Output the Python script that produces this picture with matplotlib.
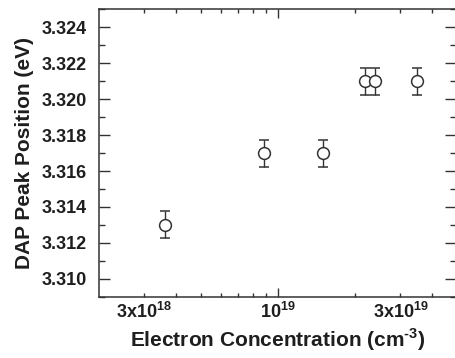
import numpy as np
import matplotlib
matplotlib.use("Agg")
import matplotlib.pyplot as plt

# electron concentration (cm^-3) and DAP peak position (eV)
conc = [3.62e18, 8.82e18, 1.50e19, 2.19e19, 2.39e19, 3.48e19]
peak = [3.313, 3.317, 3.317, 3.321, 3.321, 3.321]
err = [0.00075, 0.00075, 0.00075, 0.00075, 0.00075, 0.00075]

yticks = [3.310, 3.312, 3.314, 3.316, 3.318, 3.320, 3.322, 3.324]
xmajor = [1e19]
xmajor_labels = [r'10$^{\mathbf{19}}$']
xminor = [3e18, 4e18, 5e18, 6e18, 7e18, 8e18, 9e18, 2e19, 3e19, 4e19]
xminor_labels = [r'3x10$^{\mathbf{18}}$', '', '', '', '', '', '', '', r'3x10$^{\mathbf{19}}$', '']

plt.rcParams['font.family'] = 'Liberation Sans'
plt.rcParams['font.weight'] = 'bold'
plt.rcParams['mathtext.fontset'] = 'custom'
plt.rcParams['mathtext.rm'] = 'Liberation Sans:bold'
plt.rcParams['mathtext.bf'] = 'Liberation Sans:bold'

col = '#333333'
txt = '#1e1e1e'

fig = plt.figure(figsize=(4.55, 3.58), dpi=100)
ax = fig.add_axes([99 / 455, 1 - 296.7 / 358, 357 / 455, (296.7 - 9.3) / 358])

ax.errorbar(conc, peak, yerr=err, fmt='o', ms=8.5, mfc='white', mec=col, mew=1.1,
            ecolor=col, elinewidth=1.0, capsize=3.6, capthick=1.0)

ax.set_xscale('log')
ax.set_xlim(2.01e18, 4.94e19)
ax.set_ylim(3.30903, 3.32501)

ax.set_xticks(xmajor, labels=xmajor_labels)
ax.set_xticks(xminor, labels=xminor_labels, minor=True)
ax.set_yticks(yticks, labels=[f'{v:.3f}' for v in yticks])
ax.set_yticks(np.arange(3.309, 3.3251, 0.001), minor=True)

ax.tick_params(which='both', direction='in', top=True, right=True, colors=col,
               labelcolor=txt, width=1.0)
ax.tick_params(axis='y', which='major', length=8, pad=8.5, labelsize=13)
ax.tick_params(axis='y', which='minor', length=4)
ax.tick_params(axis='x', which='major', length=6.5, pad=4, labelsize=13)
ax.tick_params(axis='x', which='minor', length=3, pad=4, labelsize=13)

for s in ax.spines.values():
    s.set_color(col)
    s.set_linewidth(1.1)

ax.set_xlabel(r'Electron Concentration (cm$^{\text{-3}}$)', fontsize=15,
              fontweight='bold', color=txt, labelpad=3)
ax.set_ylabel('DAP Peak Position (eV)', fontsize=15, fontweight='bold',
              color=txt, labelpad=6)

fig.savefig('out.png', dpi=100)
